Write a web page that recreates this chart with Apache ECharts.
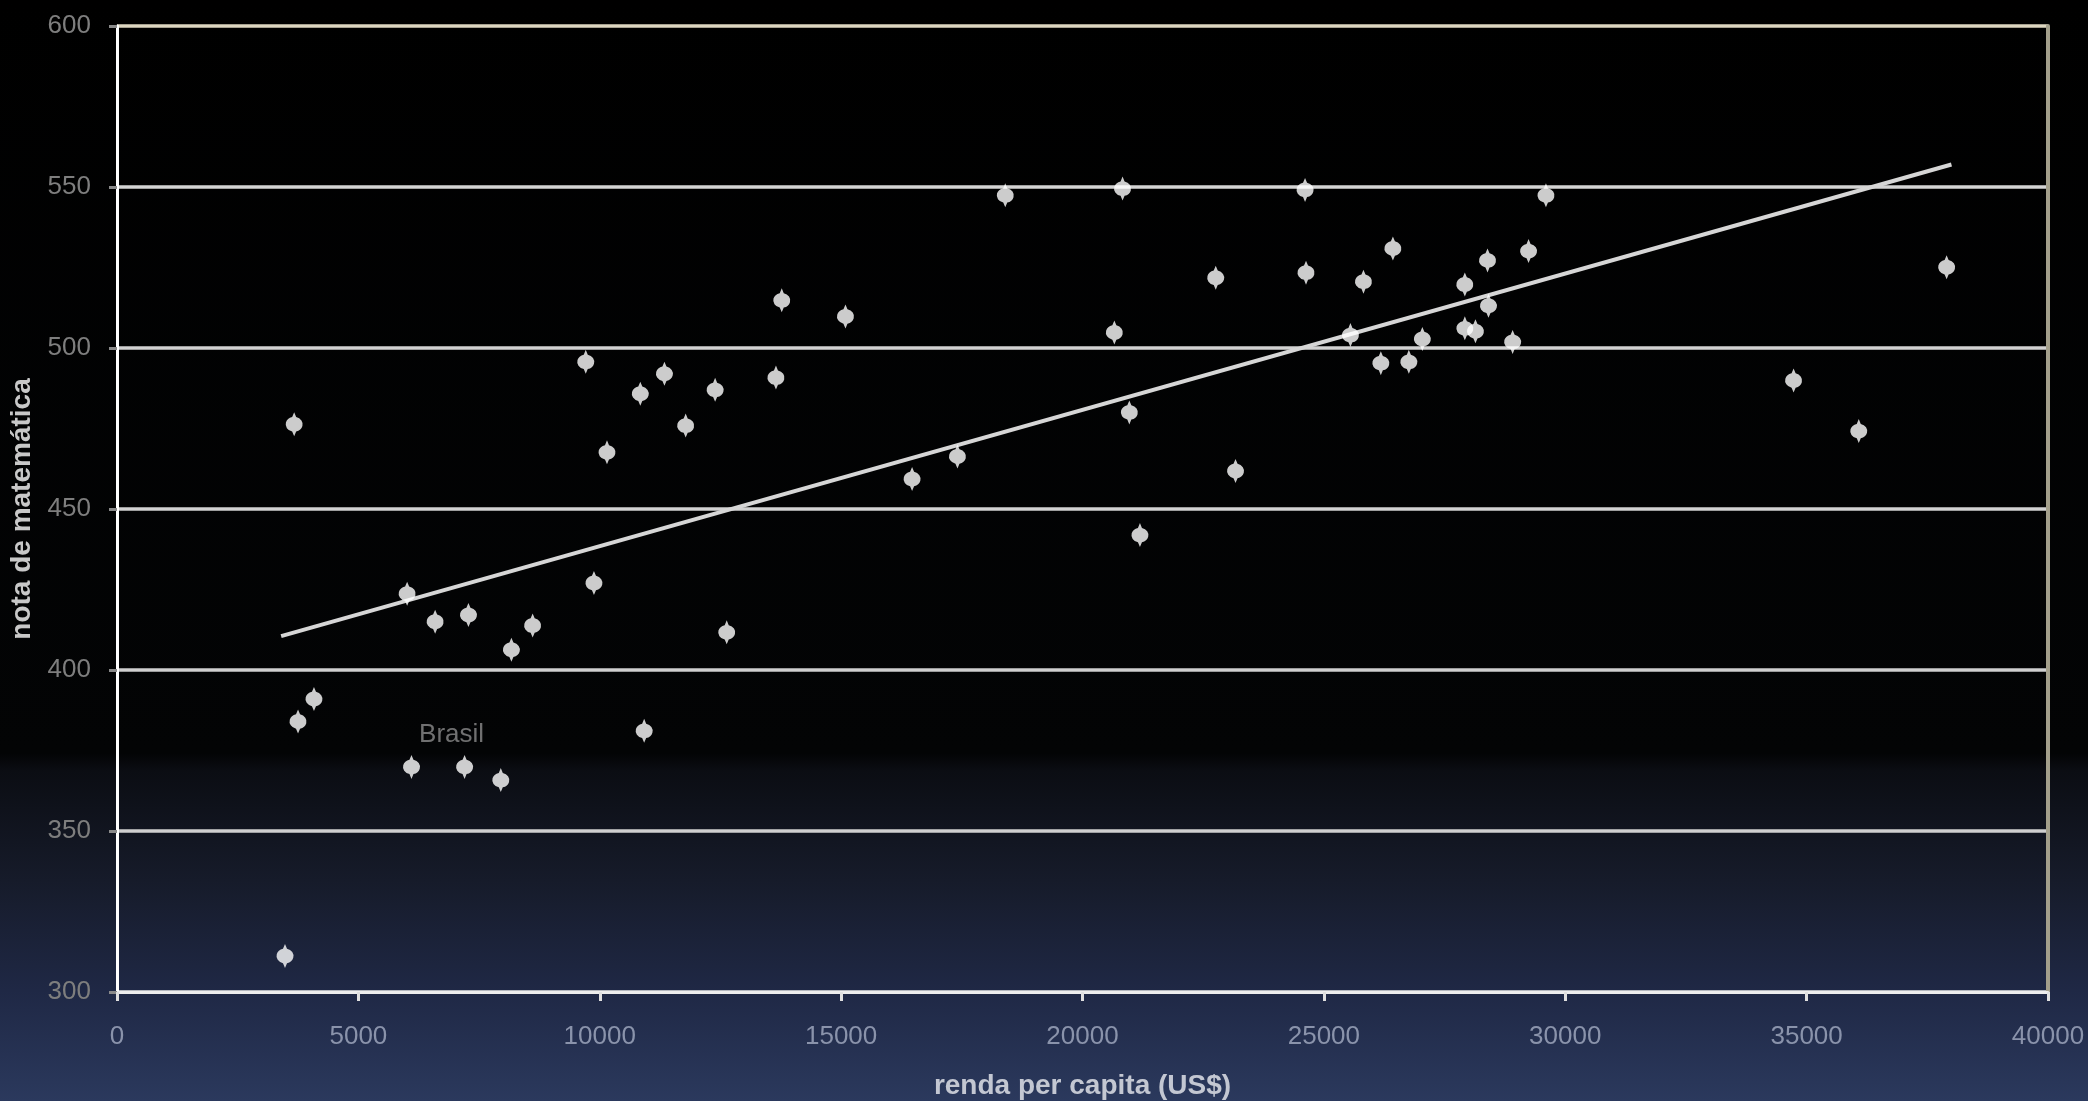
<!DOCTYPE html>
<html>
<head>
<meta charset="utf-8">
<script src="https://cdn.jsdelivr.net/npm/echarts@6/dist/echarts.min.js"></script>
<style>
html,body{margin:0;padding:0;background:#000;}
#chart{width:2088px;height:1101px;}
</style>
</head>
<body>
<div id="chart"></div>
<script>
// renda per capita (US$)
const rendaPerCapita = [
  3670, 3750, 4080, 3480, 6010, 6590, 6100, 7200, 7280, 7950,
  8170, 8610, 9710, 9880, 10150, 10840, 10920, 11340, 11780, 12390,
  12630, 13650, 13770, 15090, 16470, 17410, 18400, 20660, 20830, 20970,
  21190, 22760, 23170, 24610, 24630, 25550, 25820, 26180, 26430, 26760,
  27040, 27920, 27920, 28140, 28390, 28410, 28910, 29240, 29600, 34730,
  36080, 37900
];
// nota de matemática
const notaMatematica = [
  476.3, 384.0, 391.0, 311.2, 423.7, 415.0, 369.9, 369.9, 417.1, 365.8,
  406.3, 413.8, 495.7, 427.0, 467.6, 485.8, 381.1, 492.0, 475.9, 487.0,
  411.7, 490.8, 514.8, 509.8, 459.3, 466.3, 547.4, 504.8, 549.5, 480.0,
  441.9, 521.8, 461.8, 549.1, 523.4, 504.0, 520.6, 495.3, 530.9, 495.7,
  502.8, 519.7, 506.1, 505.2, 527.2, 513.1, 501.9, 530.1, 547.4, 489.9,
  474.2, 525.1
];
// labelled point
const brasilIndex = 7;
const brasilLabel = 'Brasil';
// trend line end points
const trendX = [3400, 38000];
const trendY = [410.5, 557.0];

const xAxisTitle = 'renda per capita (US$)';
const yAxisTitle = 'nota de matemática';

const points = rendaPerCapita.map((x, i) => {
  const item = { value: [x, notaMatematica[i]] };
  if (i === brasilIndex) {
    item.label = {
      show: true, formatter: brasilLabel, position: 'inside',
      offset: [-13, -32], color: '#8c8c8c', fontSize: 26,
      fontFamily: 'Liberation Sans'
    };
  }
  return item;
});
const trend = trendX.map((x, i) => [x, trendY[i]]);

const markerPath = 'path://M0,-11 L1.6,-6.6 A6.8,6.8 0 0 1 1.6,6.6 L0,11 L-1.6,6.6 A6.8,6.8 0 0 1 -1.6,-6.6 Z';

const chart = echarts.init(document.getElementById('chart'));
chart.setOption({
  animation: false,
  backgroundColor: new echarts.graphic.LinearGradient(0, 0, 0, 1, [
    { offset: 0, color: '#000000' },
    { offset: 0.684, color: '#030405' },
    { offset: 0.70, color: '#0b0d13' },
    { offset: 0.80, color: '#161b2a' },
    { offset: 0.90, color: '#1f2845' },
    { offset: 1, color: '#2b395d' }
  ]),
  textStyle: { fontFamily: 'Liberation Sans' },
  grid: { left: 117, right: 40, top: 26, bottom: 109, containLabel: false, outerBoundsMode: 'none' },
  xAxis: {
    type: 'value', min: 0, max: 40000, interval: 5000,
    name: xAxisTitle, nameLocation: 'middle', nameGap: 80,
    nameTextStyle: { color: '#c3c7d2', fontSize: 28, fontWeight: 'bold', fontFamily: 'Liberation Sans' },
    axisLine: { show: true, lineStyle: { color: '#ededed', width: 3 } },
    axisTick: { show: true, inside: false, length: 9, lineStyle: { color: '#e0e0e0', width: 3 } },
    axisLabel: { color: '#8a93ab', fontSize: 26, margin: 32, formatter: v => String(v) },
    splitLine: { show: false }
  },
  yAxis: [{
    type: 'value', min: 300, max: 600, interval: 50,
    name: yAxisTitle, nameLocation: 'middle', nameGap: 72, nameRotate: 90,
    nameTextStyle: { color: '#c8c8c8', fontSize: 28, fontWeight: 'bold', fontFamily: 'Liberation Sans' },
    axisLine: { show: true, lineStyle: { color: '#ffffff', width: 3 } },
    axisTick: { show: true, length: 8, lineStyle: { color: '#8a8a8a', width: 3 } },
    axisLabel: { color: '#7e7e7e', fontSize: 26, margin: 26, formatter: v => String(v) },
    splitLine: { show: true, lineStyle: {
      color: ['#e6e6e6', '#cfcfcf', '#cfcfcf', '#d2d2d2', '#d2d2d2', '#d4d4d4', '#ddd6c0'],
      width: 3.5 } }
  }, {
    type: 'value', min: 300, max: 600, interval: 50, position: 'right',
    axisLine: { show: true, lineStyle: { color: '#a39f8b', width: 4 } },
    axisTick: { show: false }, axisLabel: { show: false }, splitLine: { show: false }
  }],
  series: [{
    type: 'line', data: trend, symbol: 'none', silent: true,
    lineStyle: { color: '#d6d6d6', width: 4 }, z: 2
  }, {
    type: 'scatter', data: points, symbol: markerPath, symbolSize: [17, 24],
    itemStyle: { color: '#ffffff' }, z: 3
  }]
});
</script>
</body>
</html>
